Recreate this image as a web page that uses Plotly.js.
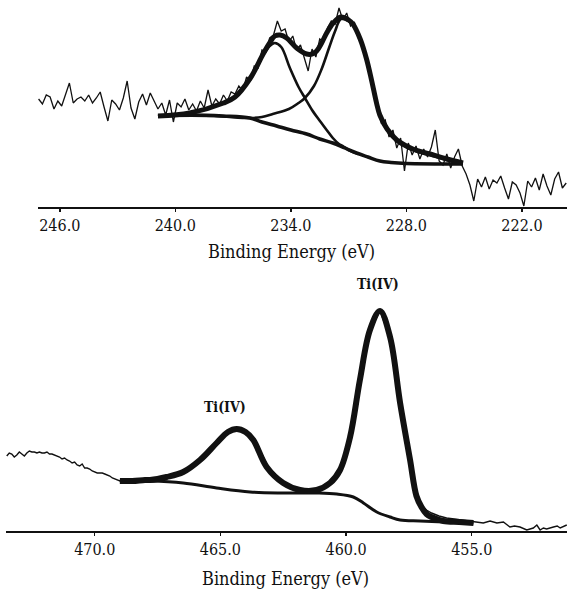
<!DOCTYPE html>
<html>
<head>
<meta charset="utf-8">
<script src="https://cdn.plot.ly/plotly-3.0.1.min.js"></script>
<style>html,body{margin:0;padding:0;background:#fff;}#chart{width:567px;height:593px;}</style>
</head>
<body>
<div id="chart"></div>
<script>
// ---------- Top panel (Mo 3d) ----------
// raw spectrum: energy grid start / step, intensities
var moRawStart = 247.1;
var moRawStep = 0.2;
var moRawY = [108,103,112,110,98,106,101,113,124,104,108,110,106,112,104,109,115,100,86,107,
  103,97,109,126,99,88,105,113,102,114,106,98,104,92,107,85,104,100,108,97,
  103,96,106,99,117,101,108,103,112,106,115,113,121,116,130,126,141,139,157,155,
  169,172,186,176,178,165,171,157,162,148,136,158,150,168,165,179,186,183,199,187,
  194,181,185,169,166,147,139,114,104,84,87,70,77,59,69,36,64,52,61,48,
  58,50,60,77,46,42,53,39,50,58,41,33,22,6,28,20,30,18,27,24,
  31,19,8,25,22,14,1,26,20,29,17,33,21,12,28,35,19,24];

var moEnvX = [240.9,239.25,237.5,236.9,236.1,235.44,235.1,234.83,234.55,234.22,233.7,233.18,232.9,232.66,232.4,232.14,231.8,231.4,231.0,230.78,230.4,230.07,229.8,229.55,229.38,229.0,228.5,228.0,227.66,227.0,226.78,225.9,225.06];
var moEnvY = [91,94,104,110,129,153,164,171,172,169,159,153,153,156,164,174,184,190,187,183,168,148,126,104,92,78,67,61,58,54,53,48,44];

var moC1X = [240.9,239.25,237.5,236.9,236.1,235.44,235.1,234.83,234.5,234.05,233.6,233.27,232.9,232.49,232.1,231.82,231.5,231.3,231.0,230.5];
var moC1Y = [91,94,104,110,129,152,161,164,160,139,120,109,97,86,76,69,63,61,57,53];

var moC2X = [240.9,238.0,236.13,235.5,234.94,234.1,233.6,233.27,232.8,232.4,232.0,231.7,231.4,231.0,230.78,230.4,230.07,229.8,229.55,229.38,229.0,228.5,228.0,227.66,227.0,226.78,225.9,225.06];
var moC2Y = [91,91,89,90,93,98,104,109,121,138,160,176,188,186,182,167,147,125,103,91,77,66,60,57,53,52,47,44];

var moBaseX = [240.9,239.25,237.5,236.13,235.5,234.74,234.0,233.18,232.5,231.82,231.2,230.59,230.0,229.38,228.8,228.0,225.06];
var moBaseY = [91,92,91,89,85,81,77,73,68,64,59,54,50,46,44.5,43.5,43];

var moTicks = [246, 240, 234, 228, 222];

// ---------- Bottom panel (Ti 2p) ----------
var tiRawX = [473.5,473.4,473.3,473.2,473.1,473.0,472.9,472.8,472.7,472.6,472.5,472.4,472.3,472.2,472.1,472.0,471.9,471.8,471.7,471.6,
  471.5,471.4,471.3,471.2,471.1,471.0,470.9,470.8,470.7,470.6,470.5,470.4,470.3,470.2,470.1,470.0,469.9,469.8,469.7,469.6,
  469.5,469.4,469.3,469.2,469.1,469.0,468.9,468.8,468.7,468.5,468.3,468.0,467.7,467.5,467.2,466.5,466.0,465.5,465.0,464.6,
  464.35,464.0,463.5,463.0,462.5,462.0,461.5,461.0,460.64,460.3,460.0,459.7,459.4,459.05,458.65,458.25,457.85,457.5,457.2,457.0,
  456.8,456.6,456.3,456.0,455.7,455.4,455.1,454.8,454.54,454.27,454.0,453.74,453.48,453.3,453.08,452.81,452.55,452.41,452.28,452.15,
  452.02,451.75,451.6,451.48,451.22];
var tiRawY = [75,78,77,74,76,79,77,75,78,80,79,79,78,79,78,78,79,77,77,76,
  75,74,72,73,71,70,68,69,66,65,67,63,63,62,60,59,58,58,58,57,
  56,55,53,52,51,50,52,49,51,50,51,50,52,51,53,57,66,80,92,101,
  103,98,85,58,48,42,41,43,50,58,80,115,160,200,220,193,128,74,36,26,
  21,18,15,13,12,11,10,9,8,10,8,9,4,5,4,1,3,6,1,3,
  2,4,5,3,6];

var tiEnvX = [469.0,468.5,468.0,467.8,467.14,466.48,465.81,465.15,464.7,464.35,464.0,463.69,463.16,462.5,461.83,461.17,460.64,460.24,459.84,459.45,459.05,458.65,458.25,457.85,457.46,457.2,457.0,456.8,456.6,456.13,455.5,454.93];
var tiEnvY = [50,50,51,51,54,59,71,88,99,102,99,91,64,48,41,41,48,61,94,151,201,220,194,128,72,35,24,17,14,10,9,8];

var tiBaseX = [469.0,467.8,466.48,465.15,463.82,462.5,461.17,460.37,459.71,459.31,458.78,458.25,457.85,457.06,456.0,454.93];
var tiBaseY = [50,50,48,43,39,38,38,37,34,28,19,14,11,10,9,8];

var tiTicks = [470, 465, 460, 455];
var tiLabels = [{x: 458.71, y: 247, text: 'Ti(IV)'}, {x: 464.81, y: 124, text: 'Ti(IV)'}];
var axisTitle = 'Binding Energy (eV)';

// ---------- build ----------
var moRawX = moRawY.map(function(v, i){ return +(moRawStart - i*moRawStep).toFixed(2); });
var ink = '#111111';
var serif = "DejaVu Serif Condensed, DejaVu Serif, serif";
function line(x, y, w, xa, ya, shape){
  return {x: x, y: y, type: 'scatter', mode: 'lines', xaxis: xa, yaxis: ya,
    line: {color: ink, width: w, shape: shape || 'linear'}, hoverinfo: 'skip', showlegend: false};
}
var traces = [
  line(moRawX, moRawY, 1.3, 'x', 'y'),
  line(moBaseX, moBaseY, 3.5, 'x', 'y', 'spline'),
  line(moC1X, moC1Y, 2.6, 'x', 'y', 'spline'),
  line(moC2X, moC2Y, 2.6, 'x', 'y', 'spline'),
  line(moEnvX, moEnvY, 5, 'x', 'y', 'spline'),
  line(tiRawX, tiRawY, 1.4, 'x2', 'y2'),
  line(tiBaseX, tiBaseY, 3, 'x2', 'y2', 'spline'),
  line(tiEnvX, tiEnvY, 6, 'x2', 'y2', 'spline')
];
var W = 567, H = 593;
function xax(dom, rng, ticks){
  return {domain: dom, range: rng, showline: true, linecolor: ink, linewidth: 2,
    tickmode: 'array', tickvals: ticks, ticktext: ticks.map(function(t){return t.toFixed(1);}),
    ticks: 'outside', ticklen: 3, tickwidth: 1.5, tickcolor: ink, tickfont: {family: serif, size: 16, color: ink},
    showgrid: false, zeroline: false, fixedrange: true};
}
function yax(dom, rng, anchor){
  return {domain: dom, range: rng, visible: false, showgrid: false, zeroline: false, anchor: anchor, fixedrange: true};
}
var annotations = [
  {text: axisTitle, xref: 'paper', yref: 'paper', x: 291/W, y: 1 - 251/H, xanchor: 'center', yanchor: 'middle',
   showarrow: false, font: {family: serif, size: 18, color: ink}},
  {text: axisTitle, xref: 'paper', yref: 'paper', x: 285/W, y: 1 - 578/H, xanchor: 'center', yanchor: 'middle',
   showarrow: false, font: {family: serif, size: 18, color: ink}}
];
tiLabels.forEach(function(l){
  annotations.push({text: '<b>' + l.text + '</b>', xref: 'x2', yref: 'y2', x: l.x, y: l.y,
    xanchor: 'center', yanchor: 'middle', showarrow: false,
    font: {family: serif, size: 14, color: ink}});
});
var layout = {
  width: W, height: H, margin: {l: 0, r: 0, t: 0, b: 0},
  font: {family: serif, color: ink},
  paper_bgcolor: '#ffffff', plot_bgcolor: '#ffffff', showlegend: false,
  xaxis: xax([38/W, 1], [247.13, 219.66], moTicks),
  yaxis: yax([1 - 207/H, 1], [0, 207], 'x'),
  xaxis2: Object.assign(xax([6/W, 1], [473.53, 451.21], tiTicks), {anchor: 'y2'}),
  yaxis2: yax([1 - 531/H, 1 - 271/H], [0, 260], 'x2'),
  annotations: annotations
};
layout.xaxis.anchor = 'y';
Plotly.newPlot('chart', traces, layout, {displayModeBar: false, staticPlot: true});
</script>
</body>
</html>
